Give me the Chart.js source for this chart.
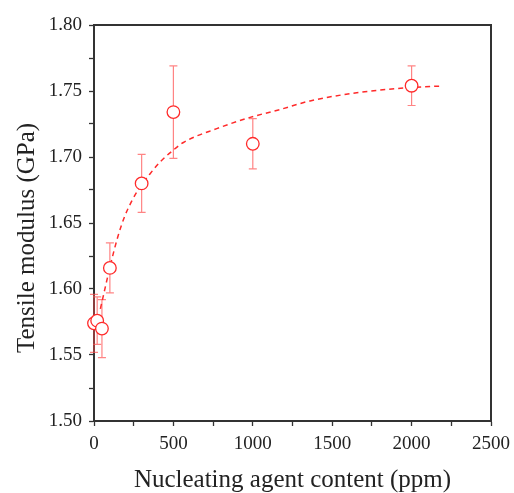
<!DOCTYPE html>
<html>
<head>
<meta charset="utf-8">
<script src="https://cdn.jsdelivr.net/npm/chart.js@4/dist/chart.umd.min.js"></script>
<style>
  html, body { margin: 0; padding: 0; background: #fff; }
  #wrap { width: 514px; height: 493px; position: relative; }
</style>
</head>
<body>
<div id="wrap"><canvas id="c" width="514" height="493"></canvas></div>
<script>
// Measured data
const contents = [0, 20, 50, 100, 300, 500, 1000, 2000];          // ppm
const modulus  = [1.574, 1.576, 1.570, 1.616, 1.680, 1.734, 1.710, 1.754]; // GPa
const errors   = [0.022, 0.018, 0.022, 0.019, 0.022, 0.035, 0.019, 0.015];

// Fitted (dashed) curve
const fitX = [40, 61, 103, 151, 193, 235, 277, 351, 414, 487, 563, 773, 983, 1172, 1361, 1676, 2000, 2180];
const fitY = [1.585, 1.596, 1.618, 1.640, 1.655, 1.666, 1.675, 1.687, 1.696, 1.704, 1.711, 1.7215, 1.730, 1.736, 1.7425, 1.749, 1.7527, 1.7537];

const xTicksMajor = [0, 500, 1000, 1500, 2000, 2500];
const yTicksMajor = [1.50, 1.55, 1.60, 1.65, 1.70, 1.75, 1.80];
const yTitle = 'Tensile modulus (GPa)';
const xTitle = 'Nucleating agent content (ppm)';

const RED = '#ff2a2a';
const ERR = 'rgba(255,80,80,0.7)';
const AXIS = '#333';
const FONT = '"Liberation Serif", "Times New Roman", serif';

const pts = contents.map((x, i) => ({ x, y: modulus[i], e: errors[i] }));
const fit = fitX.map((x, i) => ({ x, y: fitY[i] }));

const errorBars = {
  id: 'errorBars',
  beforeDatasetsDraw(chart) {
    const { ctx, scales: { x, y } } = chart;
    ctx.save();
    ctx.strokeStyle = ERR;
    ctx.lineWidth = 1.2;
    pts.forEach(p => {
      const px = x.getPixelForValue(p.x);
      const top = y.getPixelForValue(p.y + p.e);
      const bot = y.getPixelForValue(p.y - p.e);
      ctx.beginPath();
      ctx.moveTo(px, top); ctx.lineTo(px, bot);
      ctx.moveTo(px - 4, top); ctx.lineTo(px + 4, top);
      ctx.moveTo(px - 4, bot); ctx.lineTo(px + 4, bot);
      ctx.stroke();
    });
    ctx.restore();
  }
};

const frame = {
  id: 'frame',
  afterDraw(chart) {
    const { ctx, chartArea: a } = chart;
    ctx.save();
    ctx.strokeStyle = AXIS;
    ctx.lineWidth = 2;
    ctx.beginPath();
    ctx.moveTo(a.left, a.top); ctx.lineTo(a.right, a.top); ctx.lineTo(a.right, a.bottom);
    ctx.stroke();
    // y-axis title, drawn as text at its place in the reference
    ctx.fillStyle = '#222';
    ctx.font = '25px ' + FONT;
    ctx.textAlign = 'center';
    ctx.textBaseline = 'alphabetic';
    ctx.translate(34, (a.top + a.bottom) / 2 + 15);
    ctx.rotate(-Math.PI / 2);
    ctx.fillText(yTitle, 0, 0);
    ctx.restore();
  }
};

new Chart(document.getElementById('c'), {
  type: 'scatter',
  data: {
    datasets: [
      {
        type: 'line',
        data: fit,
        borderColor: RED,
        borderWidth: 1.5,
        borderDash: [5, 4],
        pointRadius: 0,
        fill: false,
        cubicInterpolationMode: 'monotone',
        order: 2
      },
      {
        data: pts,
        pointStyle: 'circle',
        pointRadius: 6.3,
        pointBorderWidth: 1.3,
        pointBorderColor: RED,
        pointBackgroundColor: '#fff',
        borderColor: RED,
        backgroundColor: '#fff',
        order: 1,
        clip: false
      }
    ]
  },
  options: {
    responsive: false,
    animation: false,
    layout: { padding: { top: 25, right: 23, left: 0, bottom: 0 } },
    plugins: { legend: { display: false }, tooltip: { enabled: false } },
    scales: {
      x: {
        type: 'linear',
        min: 0, max: 2500,
        afterBuildTicks(s) {
          const t = [];
          for (let v = 0; v <= 2500; v += 250) t.push({ value: v });
          s.ticks = t;
        },
        afterFit(s) { s.height = 72; s.paddingLeft = 0; s.paddingRight = 0; },
        border: { display: true, color: AXIS, width: 2 },
        grid: { drawOnChartArea: false, drawTicks: true, tickLength: 5, color: AXIS, tickWidth: 1.3 },
        ticks: {
          color: '#222',
          font: { family: FONT, size: 19 },
          padding: 7,
          maxRotation: 0,
          autoSkip: false,
          callback: v => xTicksMajor.includes(v) ? String(v) : ''
        },
        title: {
          display: true,
          text: xTitle,
          color: '#222',
          font: { family: FONT, size: 25 },
          padding: { top: 0, bottom: -2 }
        }
      },
      y: {
        type: 'linear',
        min: 1.5, max: 1.8,
        afterBuildTicks(s) {
          const t = [];
          for (let k = 0; k <= 12; k++) t.push({ value: 1.5 + k * 0.025 });
          s.ticks = t;
        },
        afterFit(s) { s.width = 94; s.paddingTop = 0; s.paddingBottom = 0; },
        border: { display: true, color: AXIS, width: 2 },
        grid: { drawOnChartArea: false, drawTicks: true, tickLength: 5, color: AXIS, tickWidth: 1.3 },
        ticks: {
          color: '#222',
          font: { family: FONT, size: 19 },
          padding: 7,
          autoSkip: false,
          callback: v => {
            const m = yTicksMajor.find(t => Math.abs(t - v) < 1e-6);
            return m !== undefined ? m.toFixed(2) : '';
          }
        },
        title: { display: false }
      }
    }
  },
  plugins: [errorBars, frame]
});
</script>
</body>
</html>
